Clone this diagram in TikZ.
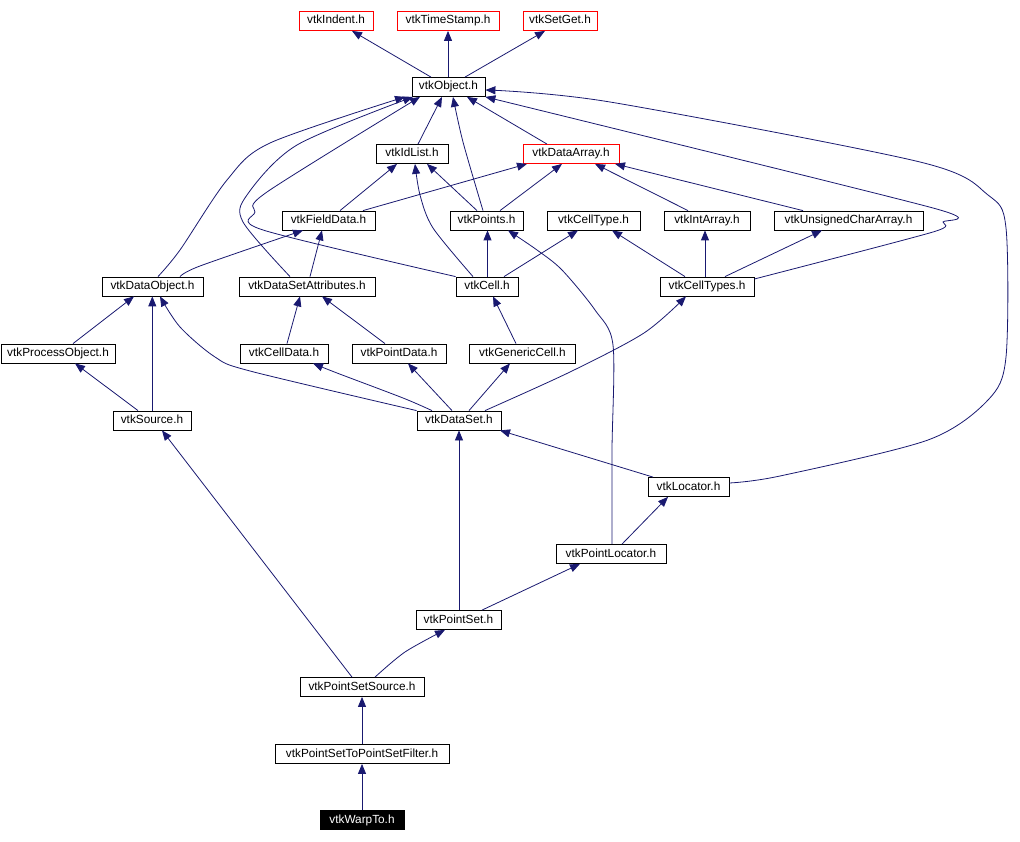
\documentclass[tikz,border=0pt]{standalone}
\usepackage{fontspec}
\setmainfont{Liberation Sans}
\usetikzlibrary{arrows.meta}
\definecolor{edgeblue}{RGB}{25,25,112}
\begin{document}
\begin{tikzpicture}[x=1pt,y=-1pt,
  box/.style={draw=black,fill=white,line width=0.8pt,minimum height=19,inner sep=0pt,text height=9pt,text depth=3pt,font=\fontsize{11.8}{13}\selectfont},
  redbox/.style={box,draw=red},
  blackbox/.style={box,fill=black,text=white},
  dep/.style={draw=edgeblue,line width=0.8pt,-{Triangle[length=10pt,width=8pt]}}]
\useasboundingbox (0,0) rectangle (1020,842);
% nodes
\node[redbox,minimum width=74] (ind) at (336,21) {vtkIndent.h};
\node[redbox,minimum width=102] (ts) at (448,21) {vtkTimeStamp.h};
\node[redbox,minimum width=74] (sg) at (560,21) {vtkSetGet.h};
\node[box,minimum width=73] (obj) at (448.5,87) {vtkObject.h};
\node[box,minimum width=72] (idl) at (412,154) {vtkIdList.h};
\node[redbox,minimum width=96] (darr) at (571,154) {vtkDataArray.h};
\node[box,minimum width=93] (fd) at (328.5,220.5) {vtkFieldData.h};
\node[box,minimum width=73] (pts) at (486.5,220.5) {vtkPoints.h};
\node[box,minimum width=93] (ctype) at (593.5,220.5) {vtkCellType.h};
\node[box,minimum width=86] (iarr) at (707,220.5) {vtkIntArray.h};
\node[box,minimum width=149] (ucarr) at (848.5,220.5) {vtkUnsignedCharArray.h};
\node[box,minimum width=101] (dobj) at (152.5,286.5) {vtkDataObject.h};
\node[box,minimum width=136] (dsa) at (307,286.5) {vtkDataSetAttributes.h};
\node[box,minimum width=62] (cell) at (487,286.5) {vtkCell.h};
\node[box,minimum width=94] (ctypes) at (707,286.5) {vtkCellTypes.h};
\node[box,minimum width=114] (pobj) at (58,353.5) {vtkProcessObject.h};
\node[box,minimum width=88] (cdata) at (284,353.5) {vtkCellData.h};
\node[box,minimum width=94] (pdata) at (399,353.5) {vtkPointData.h};
\node[box,minimum width=106] (gcell) at (522.5,353.5) {vtkGenericCell.h};
\node[box,minimum width=78] (src) at (152,420.5) {vtkSource.h};
\node[box,minimum width=84] (ds) at (459,420.5) {vtkDataSet.h};
\node[box,minimum width=81] (loc) at (688.5,487) {vtkLocator.h};
\node[box,minimum width=110] (ploc) at (611,554) {vtkPointLocator.h};
\node[box,minimum width=85] (pset) at (458.5,620) {vtkPointSet.h};
\node[box,minimum width=124] (pss) at (362,687) {vtkPointSetSource.h};
\node[box,minimum width=174] (psf) at (362,754) {vtkPointSetToPointSetFilter.h};
\node[blackbox,minimum width=84] (warp) at (362,820) {vtkWarpTo.h};
% edges
\draw[dep] (obj.north -| 431,0) -- (ind.south -| 352,0);
\draw[dep] (obj.north -| 448,0) -- (ts.south -| 448,0);
\draw[dep] (obj.north -| 465,0) -- (sg.south -| 545,0);
\draw[dep] (idl.north -| 418,0) -- (obj.south -| 442,0);
\draw[dep] (darr.north -| 547,0) -- (obj.south -| 467,0);
\draw[dep] plot[smooth] coordinates {(pts.north -| 483,0) (463,142) (obj.south -| 453,0)};
\draw[dep] plot[smooth] coordinates {(dobj.north -| 158,0) (180,250) (227,180) (270,143) (obj.south -| 405,0)};
\draw[dep] plot[smooth] coordinates {(dsa.north -| 290,0) (243,222) (247,195) (297,145) (obj.south -| 413,0)};
\draw[dep] plot[smooth] coordinates {(cell.north west) (263,230) (255,212) (267,192) (obj.south -| 420,0)};
\draw[dep] (fd.north -| 340,0) -- (idl.south -| 397,0);
\draw[dep] (fd.north -| 363,0) -- (darr.south -| 527,0);
\draw[dep] (pts.north -| 477,0) -- (idl.south -| 427,0);
\draw[dep] (pts.north -| 500,0) -- (darr.south -| 562,0);
\draw[dep] plot[smooth] coordinates {(cell.north -| 473,0) (433,228) (420,195) (idl.south -| 415,0)};
\draw[dep] (cell.north -| 487.5,0) -- (pts.south -| 487.5,0);
\draw[dep] (cell.north -| 504,0) -- (ctype.south -| 578,0);
\draw[dep] (iarr.north -| 688,0) -- (darr.south -| 595,0);
\draw[dep] (ucarr.north -| 803,0) -- (darr.south -| 615,0);
\draw[dep] (ctypes.north -| 685,0) -- (ctype.south -| 612,0);
\draw[dep] (ctypes.north -| 705,0) -- (iarr.south -| 705,0);
\draw[dep] (ctypes.north -| 725,0) -- (ucarr.south -| 822,0);
\draw[dep] plot[smooth,tension=0.4] coordinates {(ctypes.east |- 0,279) (933,232) (943,222) (933,208) (obj.south east)};
\draw[dep] plot[smooth,tension=0.5] coordinates {(loc.east |- 0,483) (780,476) (928,440) (988,400) (1006,357) (1006,228) (988,195) (920,162) (610,102) (obj.east |- 0,90)};
\draw[dep] plot[smooth] coordinates {(dobj.north -| 180,0) (200,266) (fd.south -| 303,0)};
\draw[dep] (dsa.north -| 310,0) -- (fd.south -| 322,0);
\draw[dep] (pobj.north -| 73,0) -- (dobj.south -| 134,0);
\draw[dep] (src.north -| 138,0) -- (pobj.south -| 75,0);
\draw[dep] (src.north -| 152.3,0) -- (dobj.south -| 152.3,0);
\draw[dep] (cdata.north -| 287,0) -- (dsa.south -| 300,0);
\draw[dep] (pdata.north -| 385,0) -- (dsa.south -| 322,0);
\draw[dep] (gcell.north -| 516,0) -- (cell.south -| 493,0);
\draw[dep] plot[smooth] coordinates {(ds.north west) (250,371) (215,357) (180,327) (dobj.south -| 160,0)};
\draw[dep] plot[smooth] coordinates {(ds.north -| 432,0) (403,398) (337,373) (cdata.south -| 313,0)};
\draw[dep] (ds.north -| 452,0) -- (pdata.south -| 408,0);
\draw[dep] (ds.north -| 469,0) -- (gcell.south -| 510,0);
\draw[dep] plot[smooth] coordinates {(ds.north -| 485,0) (570,372) (644,333) (ctypes.south -| 686,0)};
\draw[dep] (loc.north -| 653,0) -- (ds.south -| 500,0);
\draw[dep] (ploc.north -| 622,0) -- (loc.south -| 668,0);
\draw[dep] plot[smooth] coordinates {(ploc.north -| 612,0) (612,450) (613,345) (595,310) (562,270) (537,250) (pts.south -| 508,0)};
\draw[dep] (pset.north -| 459,0) -- (ds.south -| 459,0);
\draw[dep] (pset.north -| 482,0) -- (ploc.south -| 580,0);
\draw[dep] plot[smooth] coordinates {(pss.north -| 375,0) (405,652) (pset.south -| 445,0)};
\draw[dep] (pss.north -| 352,0) -- (src.south -| 162,0);
\draw[dep] (psf.north -| 362,0) -- (pss.south -| 362,0);
\draw[dep] (warp.north -| 362,0) -- (psf.south -| 362,0);
\end{tikzpicture}
\end{document}
